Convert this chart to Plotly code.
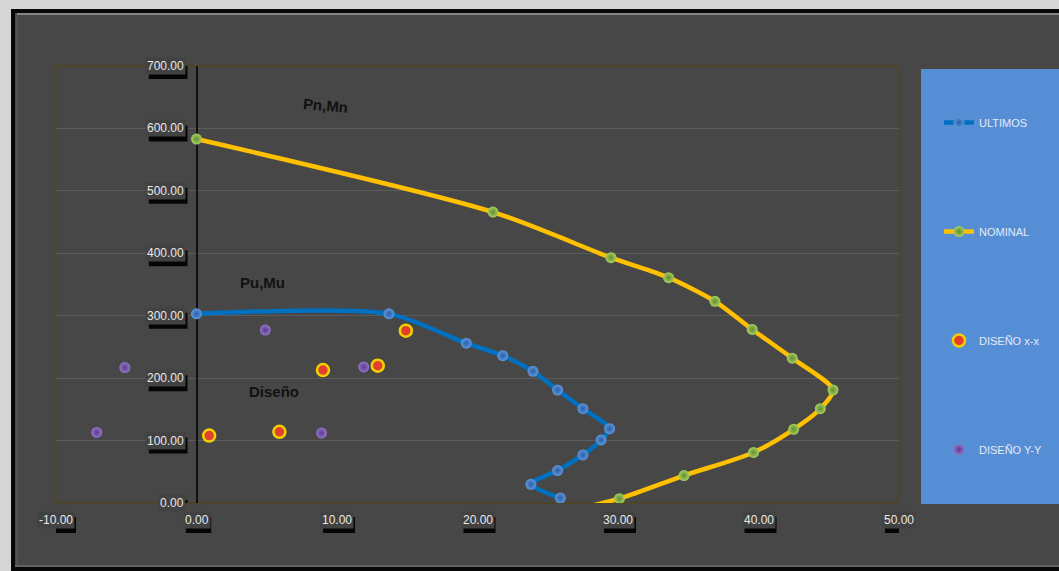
import plotly.graph_objects as go

# Interaction diagram: axial load P (tonf) vs moment M (tonf-m)
ult_m = [0.0, 13.7, 19.2, 21.8, 23.95, 25.7, 27.5, 29.4, 28.8, 27.5, 25.7, 23.8, 25.9]
ult_p = [303, 303, 256, 236, 211, 181, 151, 119, 101, 77, 52, 30, 8]

nom_m = [0.0, 21.1, 29.5, 33.6, 36.9, 39.55, 42.4, 45.3, 44.4, 42.5, 39.65, 34.7, 30.1, 25.8]
nom_p = [583, 466, 393, 361, 323, 278, 232, 181, 151, 118, 81, 44, 7, -16]

dxx_m = [14.9, 9.0, 12.9, 0.9, 5.9]
dxx_p = [276, 213, 220, 108, 114]

dyy_m = [4.9, 11.9, 8.9, -5.1, -7.1]
dyy_p = [277, 218, 112, 217, 113]

x_ticks = [-10, 0, 10, 20, 30, 40, 50]
y_ticks = [0, 100, 200, 300, 400, 500, 600, 700]

W, H = 1059, 571
ML, MR, MT, MB = 56, 160, 66, 68
PW, PH = W - ML - MR, H - MT - MB
TICK_SIZE = 12


def px(xp):
    return (xp - ML) / PW


def py(yp):
    return (H - MB - yp) / PH


def text_width(s, size=TICK_SIZE):
    # Arial / Liberation Sans advance widths
    em = {".": 0.278, "-": 0.333}
    return sum(em.get(c, 0.556) for c in s) * size


fig = go.Figure()

fig.add_trace(go.Scatter(
    x=ult_m, y=ult_p, name="ULTIMOS", mode="lines+markers",
    line=dict(color="#0070c0", width=4.5, shape="spline", smoothing=0.75),
    marker=dict(size=11, color="#5e96da",
                gradient=dict(type="radial", color="#2a5fa8"),
                line=dict(width=0)),
    legendgroup="a",
))
fig.add_trace(go.Scatter(
    x=nom_m, y=nom_p, name="NOMINAL", mode="lines+markers",
    line=dict(color="#ffc000", width=4.5, shape="spline", smoothing=0.75),
    marker=dict(size=11, color="#a6d062",
                gradient=dict(type="radial", color="#668c2c"),
                line=dict(width=0)),
    legendgroup="b",
))
fig.add_trace(go.Scatter(
    x=dxx_m, y=dxx_p, name="DISEÑO x-x", mode="markers",
    marker=dict(size=12, color="#e2402e",
                line=dict(width=2.5, color="#f2d000")),
    legendgroup="c",
))
fig.add_trace(go.Scatter(
    x=dyy_m, y=dyy_p, name="DISEÑO Y-Y", mode="markers",
    marker=dict(size=11, color="#9474c8",
                gradient=dict(type="radial", color="#5a3a8c"),
                line=dict(width=0)),
    legendgroup="d",
))

shapes = [
    # outer black frame and dark chart area
    dict(type="rect", xref="paper", yref="paper", layer="below",
         x0=px(11), x1=px(W + 20), y0=py(9), y1=py(H + 10),
         fillcolor="#080808", line=dict(width=0)),
    dict(type="rect", xref="paper", yref="paper", layer="below",
         x0=px(15), x1=px(W + 20), y0=py(13), y1=py(567),
         fillcolor="#474747", line=dict(width=0)),
    dict(type="line", xref="paper", yref="paper", layer="below",
         x0=px(17), x1=px(W + 20), y0=py(14), y1=py(14),
         line=dict(color="#9a9a9a", width=1.5)),
    dict(type="line", xref="paper", yref="paper", layer="below",
         x0=px(17), x1=px(17), y0=py(15), y1=py(566),
         line=dict(color="#535353", width=2)),
    dict(type="line", xref="paper", yref="paper", layer="below",
         x0=px(15), x1=px(W + 20), y0=py(566), y1=py(566),
         line=dict(color="#6a6a6a", width=1.5)),
    # legend panel
    dict(type="rect", xref="paper", yref="paper", layer="below",
         x0=px(921), x1=px(W + 20), y0=py(69), y1=py(504),
         fillcolor="#558ed5", line=dict(width=0)),
    # plot area border
    dict(type="rect", xref="paper", yref="paper", layer="below",
         x0=0, x1=1, y0=0, y1=1,
         fillcolor="rgba(0,0,0,0)", line=dict(color="#4f4520", width=1.5)),
]

annotations = []
tick_font = dict(family="Liberation Sans, Arial", size=TICK_SIZE, color="#e8e8e8")

# value-axis labels sit against the vertical axis at M = 0, with a drop shadow
for v in y_ticks:
    label = f"{v:.2f}"
    w = text_width(label) + 2
    shapes.append(dict(
        type="rect", layer="above",
        xref="x", xsizemode="pixel", xanchor=0, x0=-11 - w + 2, x1=-9,
        yref="y", ysizemode="pixel", yanchor=v, y0=-13, y1=3,
        fillcolor="rgba(0,0,0,0.92)", line=dict(width=0)))
    annotations.append(dict(
        x=0, y=v, xref="x", yref="y", text=label, showarrow=False,
        xanchor="right", yanchor="middle", xshift=-11,
        font=tick_font, bgcolor="#424242", borderpad=1))

for v in x_ticks:
    label = f"{v:.2f}"
    w = text_width(label) + 2
    shapes.append(dict(
        type="rect", layer="above",
        xref="x", xsizemode="pixel", xanchor=v, x0=-w / 2 + 2, x1=w / 2 + 2,
        yref="paper", ysizemode="pixel", yanchor=0, y0=-30, y1=-14,
        fillcolor="rgba(0,0,0,0.92)", line=dict(width=0)))
    annotations.append(dict(
        x=v, y=0, xref="x", yref="paper", text=label, showarrow=False,
        xanchor="center", yanchor="middle", yshift=-17,
        font=tick_font, bgcolor="#424242", borderpad=1))

label_font = dict(family="Liberation Sans, Arial", size=15, color="#111111")
annotations += [
    dict(x=9.2, y=636, xref="x", yref="y", text="<b>Pn,Mn</b>",
         showarrow=False, textangle=5, font=label_font),
    dict(x=4.7, y=353, xref="x", yref="y", text="<b>Pu,Mu</b>",
         showarrow=False, font=label_font),
    dict(x=5.5, y=178, xref="x", yref="y", text="<b>Diseño</b>",
         showarrow=False, font=label_font),
]

fig.update_layout(
    width=W, height=H,
    margin=dict(l=ML, r=MR, t=MT, b=MB, pad=0, autoexpand=False),
    paper_bgcolor="#d6d6d6",
    plot_bgcolor="rgba(0,0,0,0)",
    showlegend=True,
    legend=dict(
        x=px(939), y=py(108), xanchor="left", yanchor="top",
        bgcolor="rgba(0,0,0,0)", borderwidth=0,
        font=dict(family="Liberation Sans, Arial", size=11, color="#e4ebf5"),
        tracegroupgap=90, itemwidth=30,
    ),
    xaxis=dict(
        range=[-10, 50], tickvals=x_ticks, showticklabels=False,
        showgrid=False, zeroline=True, zerolinecolor="#111111",
        zerolinewidth=1.5, showline=False, ticks="",
    ),
    yaxis=dict(
        range=[0, 700], tickvals=y_ticks, showticklabels=False,
        showgrid=True, gridcolor="#5c5c5c", gridwidth=1,
        zeroline=False, showline=False, ticks="",
    ),
    shapes=shapes,
    annotations=annotations,
)

fig.write_html("out.html")
